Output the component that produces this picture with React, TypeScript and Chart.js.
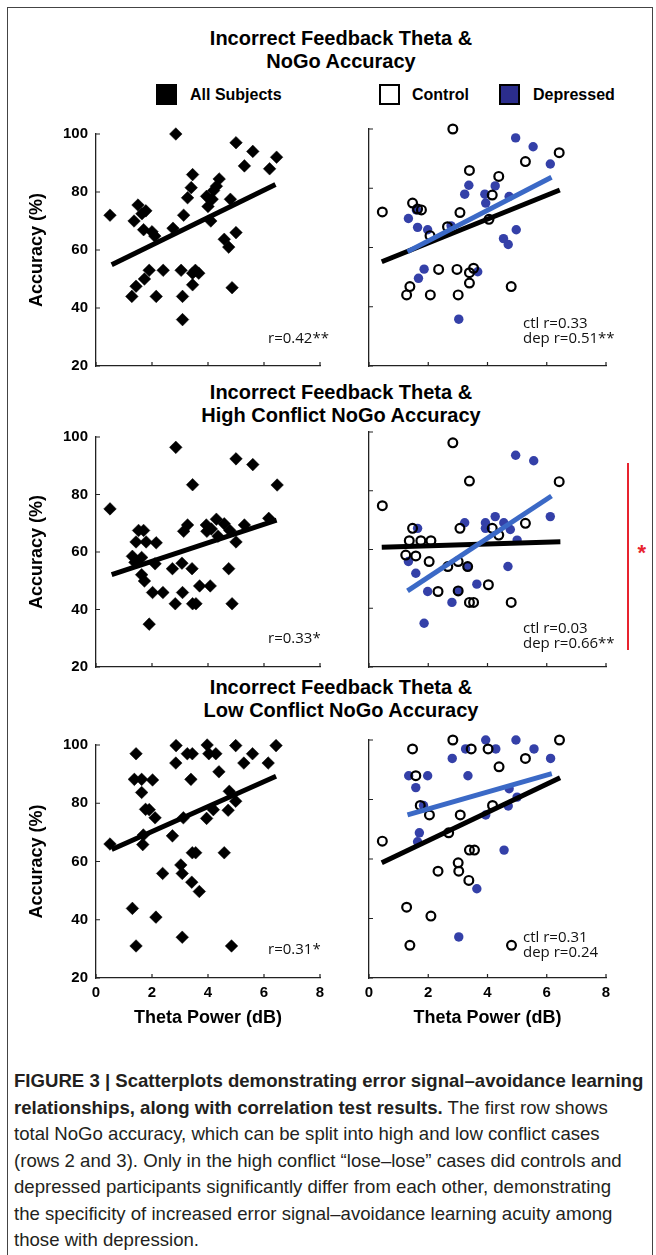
import { useEffect, useRef } from "react";
import { Chart, registerables } from "chart.js";

Chart.register(...registerables);

type Pt = [number, number];

const FONT = "'Liberation Sans', Arial, sans-serif";
const NOTE_FONT = "'Open Sans', 'Liberation Sans', sans-serif";
const AXIS = "#222";
const DEP_DOT = "#3440a8";
const DEP_LINE = "#3b69c6";

const xTicks = [0, 2, 4, 6, 8];
const yTicks = [20, 40, 60, 80, 100];

// row 1: total NoGo accuracy (theta dB, accuracy %)
const totalAll: Pt[] = [
  [0.5, 72], [2.85, 100], [5.0, 97], [5.6, 94], [5.3, 89], [6.45, 92], [6.2, 88],
  [3.45, 86], [3.4, 81.5], [3.27, 78], [4.4, 84.5], [4.3, 82], [4.2, 80.5], [3.95, 78.5],
  [4.15, 77.5], [4.0, 75], [4.1, 70], [4.8, 77.5], [3.13, 72], [1.5, 75.5], [1.78, 73.5],
  [1.64, 72.5], [1.36, 70], [1.7, 67], [2.0, 66.3], [2.1, 64.8], [2.75, 67.5], [5.0, 66],
  [4.58, 63.7], [4.74, 61], [1.9, 53], [1.73, 50], [2.4, 53], [3.04, 53], [3.55, 53],
  [3.67, 52], [3.45, 52], [3.45, 48], [1.43, 47.5], [1.28, 44], [2.15, 44], [3.09, 44],
  [4.86, 47], [3.09, 36],
];
const totalCtl: Pt[] = [
  [0.45, 72], [2.83, 100], [6.42, 92], [5.28, 89], [3.39, 86], [4.38, 84], [4.16, 77.7],
  [1.47, 75], [1.64, 73], [1.77, 72.7], [3.07, 71.8], [2.65, 67], [2.06, 64], [4.05, 69.5],
  [2.35, 52.6], [2.97, 52.6], [3.39, 51.5], [3.53, 53], [3.39, 48], [1.38, 46.8], [1.27, 44],
  [2.07, 44], [3.01, 44], [4.8, 46.8],
];
const totalDep: Pt[] = [
  [4.95, 97], [5.54, 94], [6.12, 88.2], [3.37, 81], [3.23, 78], [4.26, 80.8], [3.91, 78],
  [3.94, 75], [4.73, 77.2], [1.6, 72.7], [1.33, 69.8], [1.64, 66.8], [1.98, 66], [2.77, 67.3],
  [4.54, 63], [4.7, 61], [4.97, 66], [1.86, 52.7], [1.67, 49.6], [3.67, 51.8], [3.03, 35.8],
];
const totalAllFit: Pt[] = [[0.56, 54.9], [6.41, 82.6]];
const totalCtlFit: Pt[] = [[0.43, 55.2], [6.44, 79.4]];
const totalDepFit: Pt[] = [[1.3, 58.6], [6.16, 83.7]];

// row 2: high conflict NoGo accuracy
const highAll: Pt[] = [
  [0.5, 75], [2.85, 96.4], [5.0, 92.4], [5.6, 90.4], [3.45, 83.4], [6.47, 83.3], [6.17, 71.7],
  [5.3, 69.4], [4.3, 71.4], [3.94, 69.4], [4.12, 68], [3.96, 67.2], [4.58, 69.8], [4.78, 67.5],
  [4.36, 65.5], [3.27, 69.4], [3.13, 67.2], [1.52, 67.5], [1.7, 67.5], [1.43, 63.5], [1.79, 63.5],
  [2.15, 63.2], [5.0, 63.5], [1.3, 58.5], [1.63, 58.1], [1.39, 56.4], [2.11, 55.9], [3.07, 56.1],
  [2.73, 54.2], [3.43, 54.2], [4.74, 54.2], [1.63, 52.1], [1.73, 49.9], [2.02, 45.9], [2.39, 45.9],
  [3.09, 45.9], [3.7, 48.2], [4.08, 48.2], [2.83, 42], [3.45, 42], [3.57, 42], [4.86, 42],
  [1.9, 34.9],
];
const highCtl: Pt[] = [
  [0.45, 74.9], [2.83, 96.3], [3.39, 83.3], [6.42, 83.1], [5.28, 68.9], [4.38, 64.9], [4.16, 67.2],
  [3.07, 67.2], [1.47, 67.2], [1.36, 63], [1.75, 63], [2.09, 63], [1.24, 58.1], [1.58, 57.8],
  [2.03, 55.9], [2.66, 54.2], [3.01, 55.9], [3.33, 54.2], [2.33, 45.7], [3.01, 45.9], [3.39, 42],
  [3.53, 42], [4.03, 48], [4.8, 42],
];
const highDep: Pt[] = [
  [4.95, 92.1], [5.56, 90.2], [6.12, 71.2], [4.26, 71.2], [3.93, 69.1], [3.93, 67.2], [4.55, 69.1],
  [4.77, 66.8], [3.23, 69.1], [1.64, 67.2], [5.0, 63.2], [1.33, 55.9], [1.58, 51.9], [3.33, 54.2],
  [4.69, 54.2], [1.98, 45.7], [3.01, 45.9], [3.64, 48.2], [2.8, 42], [1.86, 34.9],
];
const highAllFit: Pt[] = [[0.56, 52.1], [6.45, 71.1]];
const highCtlFit: Pt[] = [[0.43, 60.8], [6.46, 62.6]];
const highDepFit: Pt[] = [[1.3, 45.9], [6.16, 78.2]];

// row 3: low conflict NoGo accuracy
const lowAll: Pt[] = [
  [0.5, 66], [1.43, 97], [1.37, 88.2], [1.63, 88.2], [2.02, 88], [1.63, 83.7], [1.77, 77.9],
  [1.9, 77.8], [2.11, 75], [1.67, 65.8], [1.69, 69.1], [2.86, 99.8], [2.85, 93.8], [3.26, 97],
  [3.44, 97], [3.39, 88.2], [3.12, 75], [2.73, 68.8], [3.97, 100], [4.03, 97], [4.28, 97],
  [4.39, 90.8], [4.99, 99.8], [5.28, 93.8], [5.59, 97], [6.15, 93.8], [6.43, 99.8], [4.76, 84.1],
  [4.99, 80.7], [4.19, 77.8], [3.95, 74.8], [4.72, 77.6], [4.58, 63], [3.44, 63], [3.56, 63],
  [3.03, 58.8], [3.08, 55.9], [2.38, 55.9], [3.42, 52.9], [3.69, 49.7], [1.3, 43.9], [2.14, 40.9],
  [3.08, 34], [1.43, 31], [4.84, 31],
];
const lowCtl: Pt[] = [
  [0.45, 66], [2.83, 100], [1.47, 97], [3.45, 97], [4.02, 97], [6.43, 100], [5.28, 93.8],
  [4.39, 91], [1.58, 88], [1.73, 78], [2.04, 74.8], [3.08, 74.8], [4.17, 78], [2.69, 68.8],
  [3.39, 63], [3.56, 63], [3.01, 58.7], [2.33, 55.9], [3.03, 55.9], [3.37, 52.8], [1.27, 43.8],
  [2.09, 40.8], [1.38, 31], [4.81, 31],
];
const lowDep: Pt[] = [
  [3.94, 100], [4.96, 100], [3.26, 97], [4.28, 97], [5.57, 97], [2.81, 93.8], [6.13, 93.8],
  [1.34, 88], [1.98, 88], [3.34, 88], [1.58, 84], [4.73, 83.6], [5.0, 80.8], [1.84, 78],
  [4.7, 77.8], [3.94, 74.8], [1.7, 68.8], [1.64, 65.8], [4.56, 63], [3.64, 50], [3.03, 33.8],
];
const lowAllFit: Pt[] = [[0.56, 64.1], [6.43, 89.3]];
const lowCtlFit: Pt[] = [[0.43, 58.7], [6.45, 87.3]];
const lowDepFit: Pt[] = [[1.3, 74.8], [6.17, 88.7]];

const toXY = (pts: Pt[]) => pts.map(([x, y]) => ({ x, y }));

const fitLine = (pts: Pt[], color: string, order: number) => ({
  data: toXY(pts),
  showLine: true,
  borderColor: color,
  borderWidth: 5,
  pointRadius: 0,
  borderCapStyle: "butt",
  clip: false,
  order,
});

const allSet = (pts: Pt[], fit: Pt[]) => [
  fitLine(fit, "#000", 0),
  {
    data: toXY(pts),
    pointStyle: "rectRot",
    pointRadius: 6.3,
    backgroundColor: "#000",
    borderColor: "#000",
    borderWidth: 0.5,
    clip: false,
    order: 3,
  },
];

const groupSet = (ctl: Pt[], dep: Pt[], ctlFit: Pt[], depFit: Pt[]) => [
  fitLine(depFit, DEP_LINE, 0),
  fitLine(ctlFit, "#000", 1),
  {
    data: toXY(ctl),
    pointStyle: "circle",
    pointRadius: 4.4,
    backgroundColor: "rgba(0,0,0,0)",
    borderColor: "#000",
    borderWidth: 2.2,
    clip: false,
    order: 2,
  },
  {
    data: toXY(dep),
    pointStyle: "circle",
    pointRadius: 4.7,
    backgroundColor: DEP_DOT,
    borderWidth: 0,
    clip: false,
    order: 3,
  },
];

// matlab style ticks pointing into the plot
const inwardTicks = {
  id: "inwardTicks",
  afterDatasetsDraw(chart: any) {
    const { ctx, chartArea, scales } = chart;
    ctx.save();
    ctx.strokeStyle = AXIS;
    ctx.lineWidth = 1.2;
    ctx.beginPath();
    scales.x.ticks.forEach((t: any) => {
      const px = scales.x.getPixelForValue(t.value);
      ctx.moveTo(px, chartArea.bottom);
      ctx.lineTo(px, chartArea.bottom - 4);
    });
    scales.y.ticks.forEach((t: any) => {
      const py = scales.y.getPixelForValue(t.value);
      ctx.moveTo(chartArea.left, py);
      ctx.lineTo(chartArea.left + 4, py);
    });
    ctx.stroke();
    ctx.restore();
  },
};

type PanelProps = {
  left: number;
  top: number;
  width: number;
  height: number;
  yAxisWidth: number;
  yLabels: boolean;
  xLabels: boolean;
  datasets: any[];
};

const Panel = ({ left, top, width, height, yAxisWidth, yLabels, xLabels, datasets }: PanelProps) => {
  const canvasRef = useRef<HTMLCanvasElement>(null);

  useEffect(() => {
    if (!canvasRef.current) return;
    const chart = new Chart(canvasRef.current, {
      type: "scatter",
      data: { datasets: datasets as any },
      options: {
        animation: false,
        responsive: true,
        maintainAspectRatio: false,
        events: [],
        layout: { padding: { top: 12, right: 20, left: 0, bottom: 0 } },
        plugins: {
          legend: { display: false },
          tooltip: { enabled: false },
        },
        scales: {
          x: {
            type: "linear",
            min: 0,
            max: 8,
            afterBuildTicks: (s: any) => {
              s.ticks = xTicks.map((v) => ({ value: v }));
            },
            afterFit: (s: any) => {
              s.height = 51;
            },
            grid: { display: false, drawTicks: false },
            border: { color: AXIS, width: 1.3 },
            ticks: {
              display: xLabels,
              padding: 6,
              color: "#000",
              font: { family: FONT, size: 15, weight: "bold" },
            },
            title: {
              display: xLabels,
              text: "Theta Power (dB)",
              color: "#000",
              padding: 0,
              font: { family: FONT, size: 18, weight: "bold" },
            },
          },
          y: {
            type: "linear",
            min: 20,
            max: 100,
            afterBuildTicks: (s: any) => {
              s.ticks = yTicks.map((v) => ({ value: v }));
            },
            afterFit: (s: any) => {
              s.width = yAxisWidth;
            },
            grid: { display: false, drawTicks: false },
            border: { color: AXIS, width: 1.3 },
            ticks: {
              display: yLabels,
              padding: 8,
              color: "#000",
              font: { family: FONT, size: 15, weight: "bold" },
            },
            title: {
              display: yLabels,
              text: "Accuracy (%)",
              color: "#000",
              padding: { top: 26, bottom: 0 },
              font: { family: FONT, size: 18, weight: "bold" },
            },
          },
        },
      },
      plugins: [inwardTicks],
    });

    return () => {
      chart.destroy();
    };
  }, []);

  return (
    <div style={{ position: "absolute", left, top, width, height }}>
      <canvas ref={canvasRef} aria-label="Theta power versus accuracy scatterplot" role="img"></canvas>
    </div>
  );
};

const Title = ({ top, lines }: { top: number; lines: string[] }) => (
  <div
    style={{
      position: "absolute",
      left: 91,
      top,
      width: 500,
      textAlign: "center",
      font: `bold 20px/23px ${FONT}`,
      color: "#000",
    }}
  >
    {lines.map((l) => (
      <div key={l}>{l}</div>
    ))}
  </div>
);

const Note = ({ left, top, lines }: { left: number; top: number; lines: string[] }) => (
  <div
    style={{
      position: "absolute",
      left,
      top,
      font: `15px/15px ${NOTE_FONT}`,
      color: "#111",
      whiteSpace: "nowrap",
    }}
  >
    {lines.map((l) => (
      <div key={l}>{l}</div>
    ))}
  </div>
);

const rows = [
  {
    canvasTop: 117,
    height: 300,
    all: allSet(totalAll, totalAllFit),
    groups: groupSet(totalCtl, totalDep, totalCtlFit, totalDepFit),
  },
  {
    canvasTop: 420,
    height: 298,
    all: allSet(highAll, highAllFit),
    groups: groupSet(highCtl, highDep, highCtlFit, highDepFit),
  },
  {
    canvasTop: 728,
    height: 301,
    all: allSet(lowAll, lowAllFit),
    groups: groupSet(lowCtl, lowDep, lowCtlFit, lowDepFit),
  },
];

const legendText = { position: "absolute" as const, top: 84, font: `bold 16px/21px ${FONT}`, color: "#000" };
const square = { position: "absolute" as const, top: 84, width: 21, height: 21, boxSizing: "border-box" as const };

export default function App() {
  return (
    <div
      style={{
        position: "absolute",
        left: 0,
        top: 0,
        width: 656,
        height: 1255,
        background: "#fff",
        overflow: "hidden",
        fontFamily: FONT,
      }}
    >
      <div
        style={{
          position: "absolute",
          left: 7,
          top: 7,
          width: 646,
          height: 1300,
          border: "1.5px solid #444",
          boxSizing: "border-box",
        }}
      />

      <Title top={26.5} lines={["Incorrect Feedback Theta &", "NoGo Accuracy"]} />
      <Title top={380.5} lines={["Incorrect Feedback Theta &", "High Conflict NoGo Accuracy"]} />
      <Title top={675.5} lines={["Incorrect Feedback Theta &", "Low Conflict NoGo Accuracy"]} />

      <div style={{ ...square, left: 156, background: "#000" }} />
      <div style={{ ...legendText, left: 190 }}>All Subjects</div>
      <div style={{ ...square, left: 379, background: "#fff", border: "2px solid #000" }} />
      <div style={{ ...legendText, left: 412 }}>Control</div>
      <div style={{ ...square, left: 499, background: "#2b2d8c", border: "2px solid #000" }} />
      <div style={{ ...legendText, left: 533 }}>Depressed</div>

      {rows.map((r, i) => (
        <div key={i}>
          <Panel
            left={0}
            top={r.canvasTop}
            width={340}
            height={r.height}
            yAxisWidth={96}
            yLabels={true}
            xLabels={i === 2}
            datasets={r.all}
          />
          <Panel
            left={340}
            top={r.canvasTop}
            width={286}
            height={r.height}
            yAxisWidth={29}
            yLabels={false}
            xLabels={i === 2}
            datasets={r.groups}
          />
        </div>
      ))}

      <Note left={268} top={330} lines={["r=0.42**"]} />
      <Note left={523} top={315} lines={["ctl r=0.33", "dep r=0.51**"]} />
      <Note left={268} top={630} lines={["r=0.33*"]} />
      <Note left={523} top={620} lines={["ctl r=0.03", "dep r=0.66**"]} />
      <Note left={268} top={941} lines={["r=0.31*"]} />
      <Note left={523} top={929} lines={["ctl r=0.31", "dep r=0.24"]} />

      <div style={{ position: "absolute", left: 626.5, top: 463, width: 2.5, height: 187, background: "#e8232e" }} />
      <div
        style={{
          position: "absolute",
          left: 637.5,
          top: 542,
          font: `bold 22px/22px ${FONT}`,
          color: "#e8232e",
        }}
      >
        *
      </div>

      <div
        style={{
          position: "absolute",
          left: 14,
          top: 1068,
          font: `18.6px/26.5px ${FONT}`,
          color: "#231f20",
          whiteSpace: "nowrap",
        }}
      >
        <b>FIGURE 3 | Scatterplots demonstrating error signal–avoidance learning</b>
        <br />
        <b>relationships, along with correlation test results.</b> The first row shows
        <br />
        total NoGo accuracy, which can be split into high and low conflict cases
        <br />
        (rows 2 and 3). Only in the high conflict “lose–lose” cases did controls and
        <br />
        depressed participants significantly differ from each other, demonstrating
        <br />
        the specificity of increased error signal–avoidance learning acuity among
        <br />
        those with depression.
      </div>
    </div>
  );
}
